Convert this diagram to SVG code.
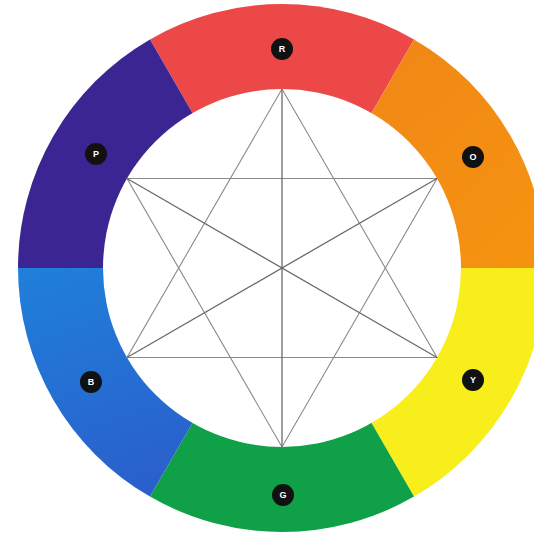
<svg xmlns="http://www.w3.org/2000/svg" width="534" height="536" viewBox="0 0 534 536">
  <defs>
    <style>
      .seg { stroke: none; }
      .tri { fill: none; stroke: #8a8a8a; stroke-width: 1.1; }
      .diag { fill: none; stroke: #6a6a6a; stroke-width: 1.3; }
      .dot { fill: #111; }
      .lbl { fill: #fff; font-family: "Liberation Sans", Arial, sans-serif; font-size: 9px; font-weight: bold; text-anchor: middle; dominant-baseline: central; }
    </style>
    <linearGradient id="gB" x1="0" y1="0" x2="0.4" y2="1">
      <stop offset="0" stop-color="#1f80da"/>
      <stop offset="1" stop-color="#2a5fcc"/>
    </linearGradient>
    <linearGradient id="gO" x1="0" y1="0" x2="1" y2="1">
      <stop offset="0" stop-color="#f08418"/>
      <stop offset="1" stop-color="#f59410"/>
    </linearGradient>
  </defs>
  <rect width="534" height="536" fill="#fff"/>
  <g id="ring">
    <path id="seg-R" class="seg" fill="#ec4848" d="M282,268 L150,39.4 A264,264 0 0 1 414,39.4 Z"/>
    <path id="seg-O" class="seg" fill="url(#gO)" d="M282,268 L414,39.4 A264,264 0 0 1 546,268 Z"/>
    <path id="seg-Y" class="seg" fill="#f8ee1c" d="M282,268 L546,268 A264,264 0 0 1 414,496.6 Z"/>
    <path id="seg-G" class="seg" fill="#10a048" d="M282,268 L414,496.6 A264,264 0 0 1 150,496.6 Z"/>
    <path id="seg-B" class="seg" fill="url(#gB)" d="M282,268 L150,496.6 A264,264 0 0 1 18,268 Z"/>
    <path id="seg-P" class="seg" fill="#3b2593" d="M282,268 L18,268 A264,264 0 0 1 150,39.4 Z"/>
    <circle cx="282" cy="268" r="179" fill="#fff"/>
  </g>
  <g id="connectors">
    <polygon class="tri" points="282,89 127,357.5 437,357.5"/>
    <polygon class="tri" points="282,447 127,178.5 437,178.5"/>
    <line class="diag" x1="282" y1="89" x2="282" y2="447"/>
    <line class="diag" x1="127" y1="178.5" x2="437" y2="357.5"/>
    <line class="diag" x1="437" y1="178.5" x2="127" y2="357.5"/>
  </g>
  <g id="node-R"><circle class="dot" cx="282" cy="49" r="11"/><text class="lbl" x="282" y="49">R</text></g>
  <g id="node-O"><circle class="dot" cx="473" cy="157" r="11"/><text class="lbl" x="473" y="157">O</text></g>
  <g id="node-Y"><circle class="dot" cx="473" cy="380" r="11"/><text class="lbl" x="473" y="380">Y</text></g>
  <g id="node-G"><circle class="dot" cx="283" cy="495" r="11"/><text class="lbl" x="283" y="495">G</text></g>
  <g id="node-B"><circle class="dot" cx="91" cy="382" r="11"/><text class="lbl" x="91" y="382">B</text></g>
  <g id="node-P"><circle class="dot" cx="96" cy="154" r="11"/><text class="lbl" x="96" y="154">P</text></g>
</svg>
